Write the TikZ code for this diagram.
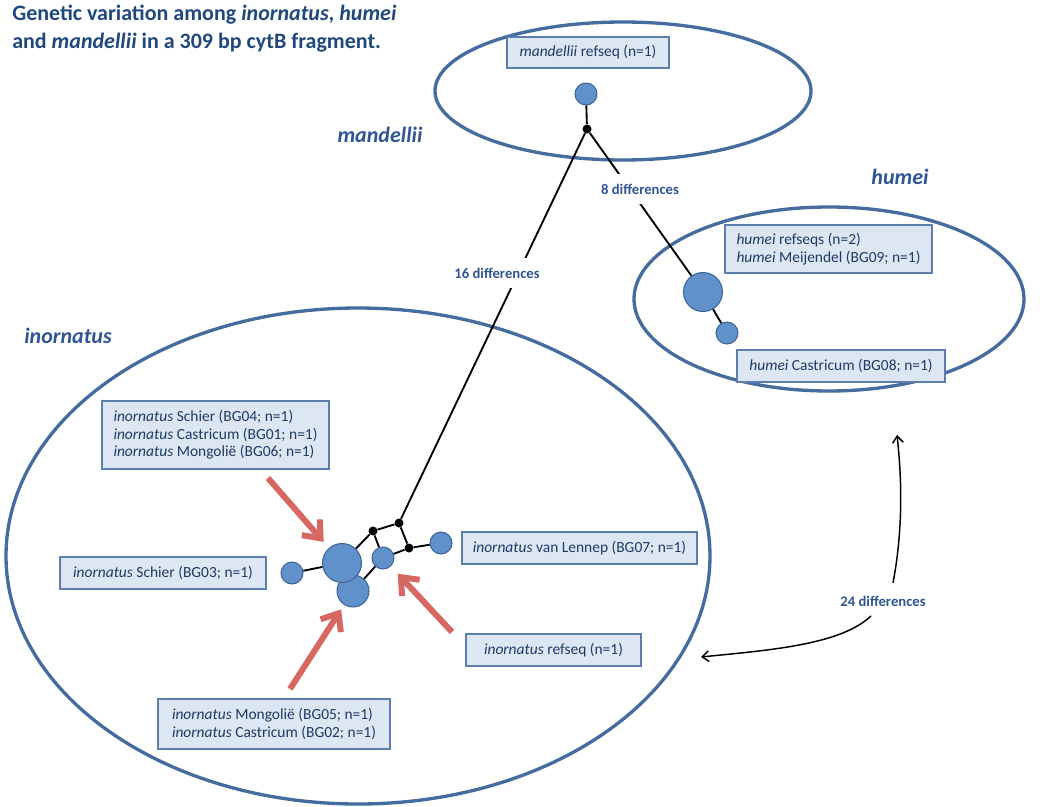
\documentclass[tikz,border=0pt]{standalone}
\usepackage{fontspec}
\setmainfont{Carlito}
\usepackage{tikz}
\usetikzlibrary{arrows.meta}

\definecolor{titleblue}{RGB}{31,73,125}
\definecolor{groupblue}{RGB}{46,86,148}
\definecolor{groupline}{RGB}{68,108,158}
\definecolor{hapfill}{RGB}{96,145,202}
\definecolor{hapline}{RGB}{60,98,150}
\definecolor{boxfill}{RGB}{221,231,243}
\definecolor{boxline}{RGB}{92,126,175}
\definecolor{boxtext}{RGB}{30,58,104}
\definecolor{pointred}{RGB}{214,104,97}

\begin{document}
\begin{tikzpicture}[x=0.75pt,y=0.75pt,yscale=-1,xscale=1,
    group/.style={draw=groupline, line width=2.5pt},
    hap/.style={circle, draw=hapline, fill=hapfill, line width=0.75pt, inner sep=0pt},
    hapone/.style={hap, minimum size=16.5pt},
    haptwo/.style={hap, minimum size=24pt},
    hapthree/.style={hap, minimum size=29.25pt},
    median/.style={circle, fill=black, inner sep=0pt, minimum size=6.75pt},
    link/.style={line width=1.4pt},
    seqbox/.style={draw=boxline, fill=boxfill, line width=1pt, text=boxtext, inner sep=0pt, align=left, font=\fontsize{11.6}{13.2}\selectfont},
    grouplbl/.style={text=groupblue, font=\fontsize{16.5}{18}\selectfont\bfseries\itshape, inner sep=0pt},
    difflbl/.style={text=groupblue, fill=white, font=\fontsize{11}{12}\selectfont\bfseries, inner xsep=1pt, inner ysep=7pt},
    pointer/.style={draw=pointred, line width=4.5pt, -{Straight Barb[length=11pt,width=18pt]}},
    curvearrow/.style={line width=1.1pt, -{Straight Barb[length=5pt,width=8pt]}}
  ]
  \useasboundingbox (0,0) rectangle (1043,807);

  %Shape: Ellipse [mandellii]
  \draw [group] (623,91) ellipse (141pt and 51.75pt);
  %Shape: Ellipse [humei]
  \draw [group] (829,299) ellipse (146.25pt and 69pt);
  %Shape: Ellipse [inornatus]
  \draw [group] (358,556) ellipse (264pt and 186pt);

  % Title
  \node [anchor=north west, inner sep=0pt, align=left, text=titleblue, font=\fontsize{16.5}{20.5}\selectfont\bfseries] (title) at (12,5)
    {Genetic variation among \textit{inornatus}, \textit{humei}\\and \textit{mandellii} in a 309 bp cytB fragment.};

  % Group labels
  \node [grouplbl] (lblMan) at (380,135) {mandellii};
  \node [grouplbl] (lblHum) at (900,177) {humei};
  \node [grouplbl] (lblIn) at (68,336) {inornatus};

  % Haplotypes
  \node [hapone] (hapMan) at (586,94) {};
  \node [median] (dotMan) at (587,129) {};
  \node [hapthree] (hapHumBig) at (703,292) {};
  \node [hapone] (hapHumSm) at (727,333) {};
  \node [median] (dotA) at (373,531) {};
  \node [median] (dotB) at (399,523) {};
  \node [median] (dotC) at (409,548) {};
  \node [hapone] (hapInL) at (292,573) {};
  \node [haptwo] (hapInTwo) at (353,591) {};
  \node [hapthree] (hapInBig) at (342,563) {};
  \node [hapone] (hapInC) at (383,558) {};
  \node [hapone] (hapInR) at (441,543) {};

  %Straight Lines
  \draw [link] (hapMan) -- (dotMan);
  \draw [link] (dotMan) -- (dotB);
  \draw [link] (dotMan) -- (hapHumBig);
  \draw [link] (hapHumBig) -- (hapHumSm);
  \draw [link] (hapInL) -- (hapInBig);
  \draw [link] (hapInBig) -- (dotA);
  \draw [link] (dotA) -- (dotB);
  \draw [link] (dotA) -- (hapInC);
  \draw [link] (dotB) -- (dotC);
  \draw [link] (dotC) -- (hapInC);
  \draw [link] (dotC) -- (hapInR);
  \draw [link] (hapInTwo) -- (hapInC);

  % Difference labels
  \node [difflbl] (diff16) at (497,273) {16 differences};
  \node [difflbl] (diff8) at (640,189) {8 differences};
  \node [difflbl, inner ysep=2pt] (diff24) at (883,601) {24 differences};

  % Sequence boxes
  \node [seqbox, minimum width=121.5pt, minimum height=23.25pt] (boxMan) at (588,52.5) {\textit{mandellii} refseq (n=1)};
  \node [seqbox, minimum width=155.25pt, minimum height=36pt] (boxHumA) at (828.5,249) {\textit{humei} refseqs (n=2)\\\textit{humei} Meijendel (BG09; n=1)};
  \node [seqbox, minimum width=156pt, minimum height=24pt] (boxHumB) at (841,366) {\textit{humei} Castricum (BG08; n=1)};
  \node [seqbox, minimum width=170.25pt, minimum height=51pt] (boxInA) at (215.5,435) {\textit{inornatus} Schier (BG04; n=1)\\\textit{inornatus} Castricum (BG01; n=1)\\\textit{inornatus} Mongoli\"e (BG06; n=1)};
  \node [seqbox, minimum width=154.5pt, minimum height=24pt] (boxInB) at (163,573) {\textit{inornatus} Schier (BG03; n=1)};
  \node [seqbox, minimum width=176.25pt, minimum height=24pt] (boxInC) at (579.5,548) {\textit{inornatus} van Lennep (BG07; n=1)};
  \node [seqbox, minimum width=131.25pt, minimum height=24pt] (boxInD) at (553.5,650) {\textit{inornatus} refseq (n=1)};
  \node [seqbox, minimum width=174pt, minimum height=37.5pt] (boxInE) at (274,724) {\textit{inornatus} Mongoli\"e (BG05; n=1)\\\textit{inornatus} Castricum (BG02; n=1)};

  %Red arrows
  \coordinate (tailA) at (268,478);
  \coordinate (tailB) at (290,689);
  \coordinate (tailC) at (452,632);
  \draw [pointer, shorten >=6pt] (tailA) -- (hapInBig);
  \draw [pointer, shorten >=4pt] (tailB) -- (hapInTwo);
  \draw [pointer, shorten >=7.5pt] (tailC) -- (hapInC);

  %Curve Lines
  \coordinate (d24up) at (893,583);
  \coordinate (humTip) at (897,435);
  \coordinate (d24dn) at (871,616);
  \coordinate (inTip) at (701,657);
  \draw [curvearrow] (d24up) .. controls (903,530) and (902,480) .. (humTip);
  \draw [curvearrow] (d24dn) .. controls (840,645) and (770,650) .. (inTip);
\end{tikzpicture}
\end{document}
